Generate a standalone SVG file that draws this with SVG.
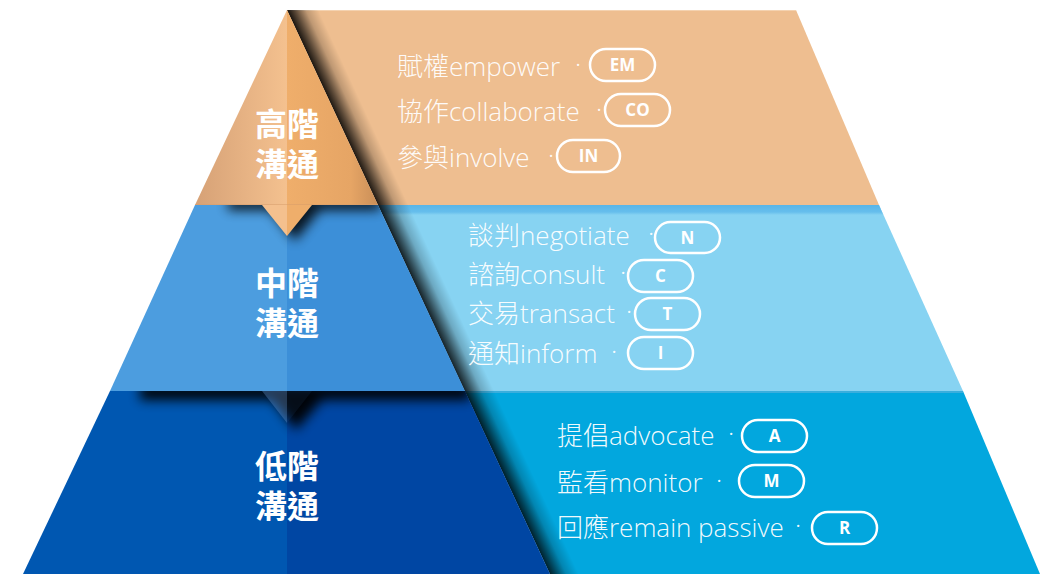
<svg xmlns="http://www.w3.org/2000/svg" width="1056" height="574" viewBox="0 0 1056 574">
<defs>
<style>
.t{font-family:"Open Sans","Noto Sans CJK TC",sans-serif;font-size:26px;font-weight:300;fill:#ffffff;fill-opacity:.96}
.h{font-family:"Noto Sans CJK TC",sans-serif;font-size:32px;font-weight:700;fill:#ffffff;text-anchor:middle}
.p{fill:none;stroke:#ffffff;stroke-width:2.5}
.pl{font-family:"Open Sans","Liberation Sans",sans-serif;font-size:17px;font-weight:700;fill:#ffffff;text-anchor:middle}
</style>
<linearGradient id="gTopL" gradientUnits="userSpaceOnUse" x1="195" y1="0" x2="287" y2="0">
<stop offset="0" stop-color="#D6A176"/><stop offset="1" stop-color="#F4C18F"/>
</linearGradient>
<linearGradient id="gTopR" gradientUnits="userSpaceOnUse" x1="287" y1="0" x2="378" y2="0">
<stop offset="0" stop-color="#EFAE6B"/><stop offset="0.7" stop-color="#E6A565"/><stop offset="1" stop-color="#C98E58"/>
</linearGradient>
<linearGradient id="gEdge" gradientUnits="userSpaceOnUse" x1="287" y1="10" x2="313" y2="-2">
<stop offset="0" stop-color="#000" stop-opacity="0.9"/>
<stop offset="0.25" stop-color="#000" stop-opacity="0.62"/>
<stop offset="0.6" stop-color="#000" stop-opacity="0.2"/>
<stop offset="1" stop-color="#000" stop-opacity="0"/>
</linearGradient>
<linearGradient id="gMidStrip" x1="0" y1="0" x2="0" y2="1">
<stop offset="0" stop-color="#58B5E8"/><stop offset="0.7" stop-color="#66BEEC"/><stop offset="1" stop-color="#87D3F2"/>
</linearGradient>
<filter id="blur" x="-30%" y="-100%" width="160%" height="300%">
<feGaussianBlur stdDeviation="6"/>
</filter>
<clipPath id="cMid"><polygon points="195,205 378,205 465,391 110,391"/></clipPath>
<clipPath id="cLow"><polygon points="110,391 465,391 550,574 23,574"/></clipPath>
</defs>

<g id="panels">
<polygon points="287,10 796,10 879,205 378,205" fill="#EEBE90"/>
<line x1="290" y1="10.5" x2="796" y2="10.5" stroke="#F4D2B0" stroke-width="1"/>
<polygon points="378,205 879,205 963,391 465,391" fill="#87D3F2"/>
<polygon points="378,205 879,205 883.3,215 382.7,215" fill="url(#gMidStrip)"/>
<polygon points="465,391 963,391 1040,574 550,574" fill="#02A7DE"/>
<line x1="465" y1="392" x2="963" y2="392" stroke="#3AAEDD" stroke-width="2"/>
<polygon points="287,10 796,10 1040,574 550,574" fill="url(#gEdge)"/>
</g>

<g id="tier-high">
<polygon points="287,10 195,205 287,205" fill="url(#gTopL)"/>
<polygon points="287,10 287,205 378,205" fill="url(#gTopR)"/>
<line x1="195" y1="205" x2="378" y2="205" stroke="#D69C6A" stroke-width="1"/>
</g>

<g id="tier-mid">
<polygon points="195,205 287,205 287,391 110,391" fill="#4C9DDF"/>
<polygon points="287,205 378,205 465,391 287,391" fill="#3C8FD8"/>
<g clip-path="url(#cMid)" opacity="0.85">
<path d="M228,198 L380,198 L380,210 L320,210 L295,241 L270,210 L228,210 Z" fill="#000" filter="url(#blur)"/>
</g>
</g>

<g id="tier-low">
<polygon points="110,391 287,391 287,574 23,574" fill="#0057B1"/>
<polygon points="287,391 465,391 550,574 287,574" fill="#0046A3"/>
<g clip-path="url(#cLow)" opacity="0.95">
<path d="M140,384 L470,384 L470,400 L322,400 L296,430 L272,400 L140,400 Z" fill="#000" filter="url(#blur)"/>
</g>
</g>

<g id="connectors">
<polygon points="262,205 287,205 287,236" fill="#F4C08E"/>
<polygon points="287,205 312,205 287,236" fill="#EFAE6B"/>
<polygon points="262,391 287,391 287,423" fill="#6A9BD6" fill-opacity="0.35"/>
<polygon points="287,391 312,391 287,423" fill="#3C8FD8" fill-opacity="0.08"/>
</g>

<g id="label-high">
<text class="h" x="287" y="136">高階<tspan x="287" y="176">溝通</tspan></text>
</g>
<g id="label-mid">
<text class="h" x="287" y="295">中階<tspan x="287" y="335">溝通</tspan></text>
</g>
<g id="label-low">
<text class="h" x="287" y="478">低階<tspan x="287" y="518">溝通</tspan></text>
</g>

<g id="item-em">
<text class="t" x="397" y="76">賦權empower<tspan x="575" dy="-3">·</tspan></text>
<rect class="p" x="590" y="49" width="65" height="32" rx="16"/>
<text class="pl" x="622.5" y="71">EM</text>
</g>
<g id="item-co">
<text class="t" x="397" y="121">協作collaborate<tspan x="596" dy="-3">·</tspan></text>
<rect class="p" x="605" y="94" width="65" height="32" rx="16"/>
<text class="pl" x="637.5" y="116">CO</text>
</g>
<g id="item-in">
<text class="t" x="397" y="167">參與involve<tspan x="548" dy="-3">·</tspan></text>
<rect class="p" x="557" y="140" width="63" height="32" rx="16"/>
<text class="pl" x="588.5" y="162">IN</text>
</g>

<g id="item-n">
<text class="t" x="468" y="245">談判negotiate<tspan x="648" dy="-3">·</tspan></text>
<rect class="p" x="655" y="222" width="65" height="31" rx="15.5"/>
<text class="pl" x="687.5" y="243.5">N</text>
</g>
<g id="item-c">
<text class="t" x="468" y="284">諮詢consult<tspan x="620" dy="-3">·</tspan></text>
<rect class="p" x="628" y="260" width="65" height="32" rx="16"/>
<text class="pl" x="660.5" y="282">C</text>
</g>
<g id="item-t">
<text class="t" x="468" y="323">交易transact<tspan x="626" dy="-3">·</tspan></text>
<rect class="p" x="635" y="298" width="65" height="32" rx="16"/>
<text class="pl" x="667.5" y="320">T</text>
</g>
<g id="item-i">
<text class="t" x="468" y="363">通知inform<tspan x="611" dy="-3">·</tspan></text>
<rect class="p" x="628" y="337" width="65" height="32" rx="16"/>
<text class="pl" x="660.5" y="359">I</text>
</g>

<g id="item-a">
<text class="t" x="557" y="445">提倡advocate<tspan x="728" dy="-3">·</tspan></text>
<rect class="p" x="742" y="420" width="65" height="32" rx="16"/>
<text class="pl" x="774.5" y="442">A</text>
</g>
<g id="item-m">
<text class="t" x="557" y="492">監看monitor<tspan x="716" dy="-3">·</tspan></text>
<rect class="p" x="739" y="465" width="65" height="32" rx="16"/>
<text class="pl" x="771.5" y="487">M</text>
</g>
<g id="item-r">
<text class="t" x="557" y="537">回應remain passive<tspan x="795" dy="-3">·</tspan></text>
<rect class="p" x="812" y="512" width="65" height="32" rx="16"/>
<text class="pl" x="844.5" y="534">R</text>
</g>
</svg>
